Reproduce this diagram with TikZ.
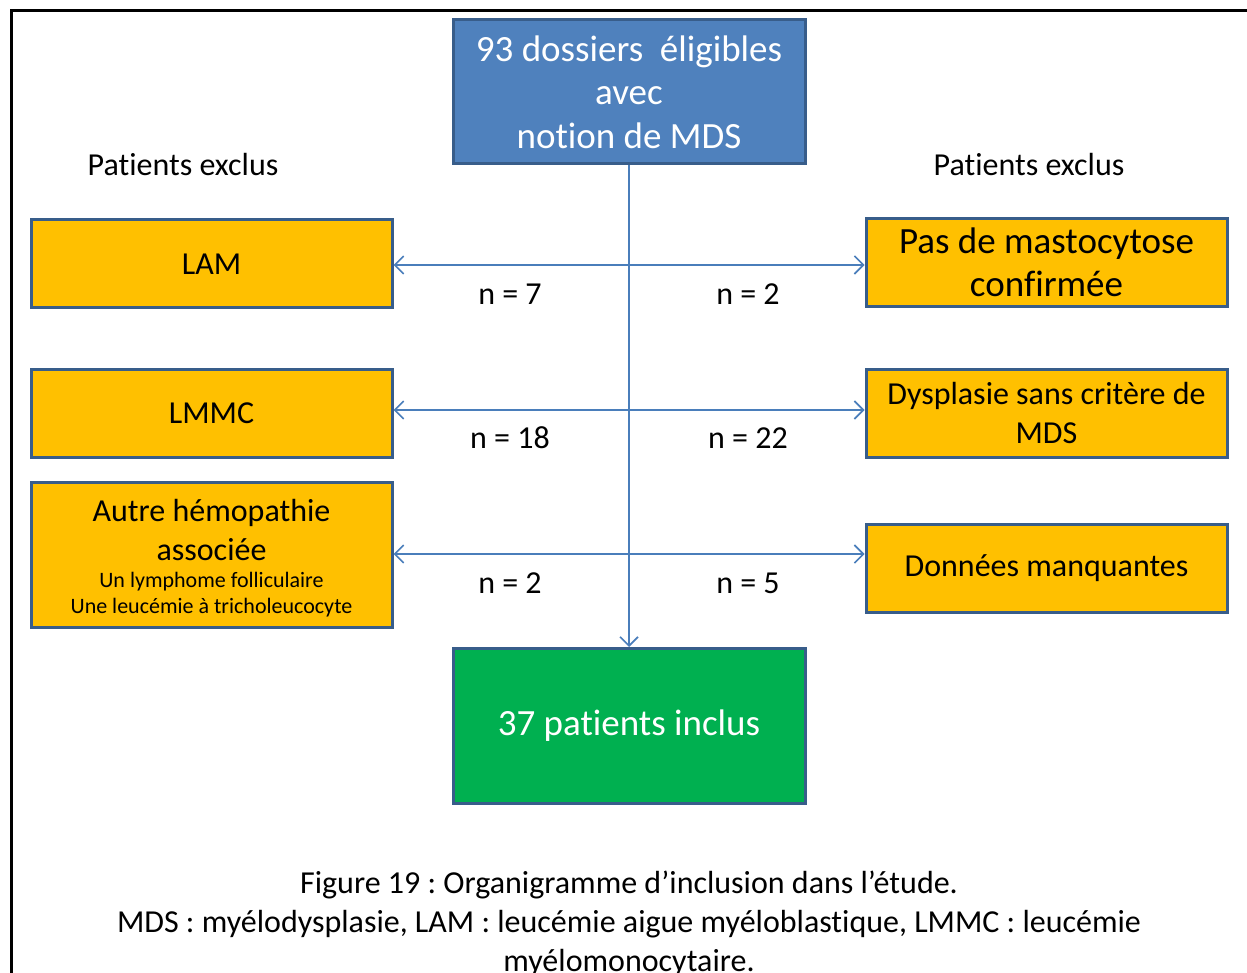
\documentclass[tikz,border=0pt]{standalone}
\usepackage{fontspec}
\setmainfont{Carlito}[Ligatures={NoCommon}]
\usetikzlibrary{arrows.meta}
\definecolor{blueF}{HTML}{4F81BD}
\definecolor{blueD}{HTML}{385D8A}
\definecolor{orangeF}{HTML}{FFC000}
\definecolor{greenF}{HTML}{00B050}
\definecolor{lineC}{HTML}{4A7EBB}
\frenchspacing
\tikzset{
  box/.style={draw=blueD, line width=3pt, minimum width=361pt, minimum height=88pt, inner sep=0pt, align=center, font=\fontsize{32}{39}\selectfont},
  obox/.style={box, fill=orangeF, text=black},
  conn/.style={draw=lineC, line width=1.6pt, -{Straight Barb[length=9pt,width=18pt,line width=1.6pt]}},
  dconn/.style={draw=lineC, line width=1.6pt, {Straight Barb[length=9pt,width=18pt,line width=1.6pt]}-{Straight Barb[length=9pt,width=18pt,line width=1.6pt]}},
  lbl/.style={font=\fontsize{32}{39}\selectfont, inner sep=0pt},
}
\begin{document}
\begin{tikzpicture}[x=1pt,y=-1pt]
\useasboundingbox (0,0) rectangle (1247,973);
\fill[white] (0,0) rectangle (1247,973);
\draw[line width=3pt] (11,980) -- (11,11) -- (1255,11);

\node[box, fill=blueF, text=white, minimum width=352pt, minimum height=144pt, font=\fontsize{37}{43.5}\selectfont] (top) at (629,92) {93 dossiers\ \ éligibles\\avec\\notion de MDS};
\node[box, fill=greenF, text=white, minimum width=352pt, minimum height=155pt, font=\fontsize{37}{43}\selectfont] (bot) at (629,726) {37 patients inclus};

\node[lbl] (pl) at (183,165) {Patients exclus};
\node[lbl] (pr) at (1029,165) {Patients exclus};

\node[obox] (lam) at (211.5,264) {LAM};
\node[obox] (lmmc) at (211.5,413) {LMMC};
\node[obox, minimum height=145pt] (autre) at (211.5,554.5) {};
\node[lbl, align=center] (autreT) at (211.5,530) {Autre hémopathie\\associée};
\node[lbl, align=center, font=\fontsize{22}{26}\selectfont] (autreS) at (211.5,595) {Un lymphome folliculaire\\Une leucémie à tricholeucocyte};

\node[obox, font=\fontsize{37}{43}\selectfont] (masto) at (1046.5,262.5) {Pas de mastocytose\\confirmée};
\node[obox] (dysp) at (1046.5,413) {Dysplasie sans critère de\\MDS};
\node[obox] (donn) at (1046.5,568) {Données manquantes};

\coordinate (c1) at (629,265);
\coordinate (c2) at (629,410);
\coordinate (c3) at (629,554);

\draw[conn] (top.south) -- (bot.north);
\draw[dconn] (lam.east |- c1) -- (masto.west |- c1);
\draw[dconn] (lmmc.east |- c2) -- (dysp.west |- c2);
\draw[dconn] (autre.east |- c3) -- (donn.west |- c3);

\node[lbl] (n1) at (510,294) {n = 7};
\node[lbl] (n2) at (748,294) {n = 2};
\node[lbl] (n3) at (510,438) {n = 18};
\node[lbl] (n4) at (748,438) {n = 22};
\node[lbl] (n5) at (510,583) {n = 2};
\node[lbl] (n6) at (748,583) {n = 5};

\node[lbl, align=center, font=\fontsize{32}{39}\selectfont] (cap) at (629,924) {Figure 19 : Organigramme d’inclusion dans l’étude.\\MDS : myélodysplasie, LAM : leucémie aigue myéloblastique, LMMC : leucémie\\myélomonocytaire.};
\end{tikzpicture}
\end{document}
